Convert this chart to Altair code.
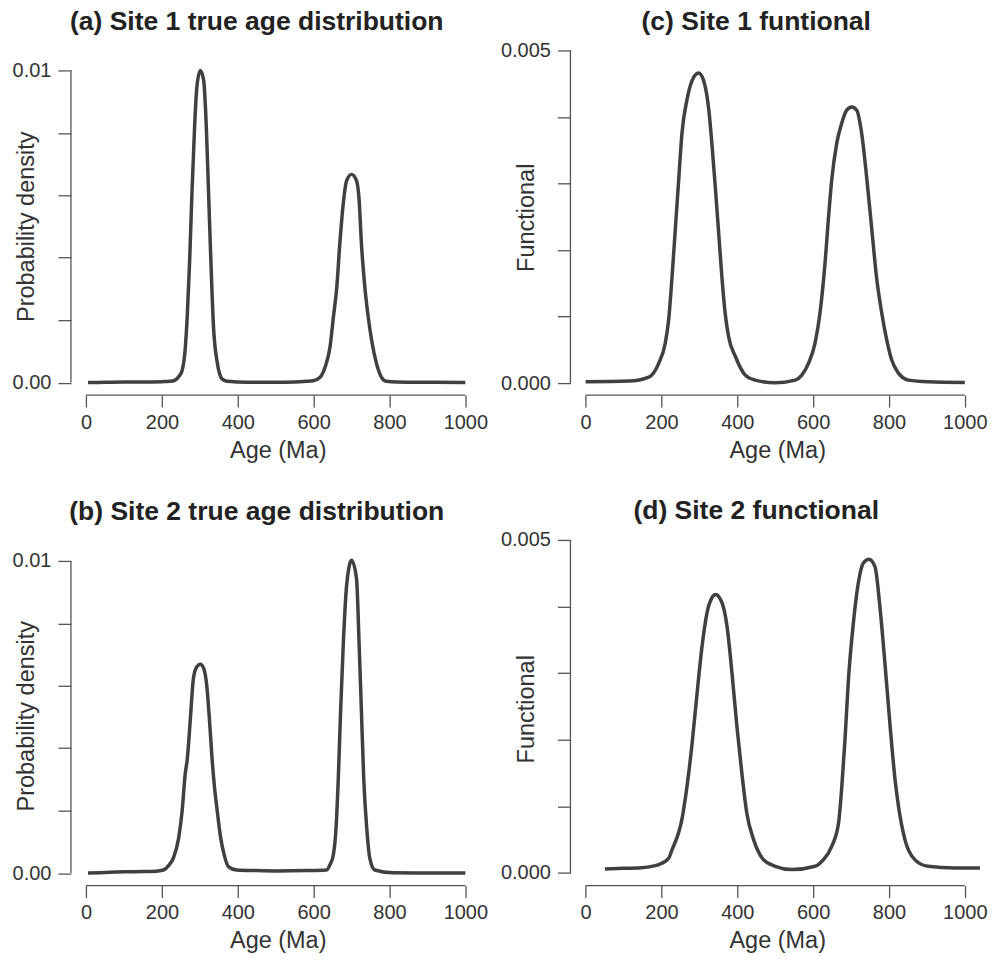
import altair as alt
import pandas as pd

# ---------------- data ----------------
# (a) Site 1 true age distribution
a_age = [5, 50, 100, 150, 200, 220, 235, 245, 253, 261, 267, 273, 279, 286, 292, 301, 310, 317,
         323, 329, 336, 345, 352, 358, 371, 400, 450, 500, 550, 580, 599, 617, 630, 643, 652, 661,
         669, 678, 687, 700, 713, 720, 726, 735, 744, 753, 766, 779, 792, 820, 900, 1000]
a_val = [0.0, 0.00001, 0.00002, 0.00002, 0.00003, 0.00004, 0.00008, 0.0002, 0.00038, 0.00103,
         0.0022, 0.0039, 0.00605, 0.00818, 0.00946, 0.0100, 0.00968, 0.00818, 0.00605, 0.0039,
         0.00177, 0.0007, 0.00028, 0.00012, 0.00004, 0.00002, 0.00001, 0.00001, 0.00002, 0.00004,
         0.00006, 0.00017, 0.00049, 0.00113, 0.00209, 0.00306, 0.00445, 0.00573, 0.00647, 0.00667,
         0.00647, 0.00583, 0.00445, 0.00306, 0.00209, 0.00135, 0.0006, 0.00017, 0.00004, 0.00002,
         0.00001, 0.0]

# (b) Site 2 true age distribution
b_age = [5, 50, 100, 150, 190, 204, 218, 230, 244, 253, 261, 267, 275, 283, 292, 301, 310, 318,
         325, 332, 338, 346, 355, 364, 375, 397, 450, 503, 580, 634, 643, 652, 659, 665, 671, 678,
         687, 700, 713, 720, 726, 732, 740, 748, 761, 809, 900, 1000]
b_val = [0.0, 0.00002, 0.00004, 0.00005, 0.00007, 0.0001, 0.00025, 0.00048, 0.00112, 0.00197,
         0.00314, 0.00368, 0.00496, 0.00624, 0.00661, 0.00669, 0.00656, 0.00602, 0.00496, 0.00368,
         0.00282, 0.00197, 0.00112, 0.00059, 0.00021, 0.0001, 0.00008, 0.00007, 0.00008, 0.0001,
         0.00027, 0.00059, 0.00144, 0.00304, 0.00517, 0.0073, 0.00922, 0.01002, 0.00944, 0.0073,
         0.00517, 0.00304, 0.00144, 0.00048, 0.0001, 0.00001, 0.0, 0.0]

# (c) Site 1 functional
c_age = [0, 114, 167, 193, 210, 219, 228, 237, 246, 254, 267, 281, 298, 311, 325, 333, 342, 351,
         360, 368, 377, 395, 421, 447, 500, 553, 570, 588, 605, 618, 632, 640, 649, 662, 675, 688,
         702, 715, 728, 741, 754, 767, 781, 794, 807, 825, 851, 903, 1000]
c_val = [0.00002, 0.00003, 0.00009, 0.0003, 0.0006, 0.00095, 0.0016, 0.00235, 0.0031, 0.00375,
         0.00425, 0.00455, 0.00466, 0.00455, 0.0041, 0.0036, 0.00295, 0.00225, 0.00155, 0.00105,
         0.0007, 0.0004, 0.00012, 0.000045, 0.000005, 0.000045, 0.00012, 0.0003, 0.0006, 0.00105,
         0.00185, 0.00245, 0.00305, 0.0036, 0.0039, 0.0041, 0.00415, 0.0041, 0.00375, 0.0031,
         0.00235, 0.0016, 0.00105, 0.00065, 0.00035, 0.00015, 0.000045, 0.00002, 0.00001]

# (d) Site 2 functional
d_age = [51, 100, 140, 184, 193, 219, 228, 245, 252, 265, 280, 294, 307, 320, 333, 343, 360, 373,
         386, 399, 412, 425, 443, 469, 500, 544, 605, 627, 649, 667, 675, 684, 693, 706, 719, 732,
         747, 763, 776, 790, 803, 816, 825, 842, 868, 903, 974, 1044]
d_val = [0.00006, 0.00007, 0.000075, 0.00011, 0.000125, 0.00022, 0.00035, 0.0006, 0.00075, 0.0012,
         0.0019, 0.0027, 0.0034, 0.0039, 0.00413, 0.00418, 0.00405, 0.0037, 0.003, 0.0022, 0.0015,
         0.0009, 0.0005, 0.0002, 0.0001, 0.00005, 0.0001, 0.0002, 0.0004, 0.00075, 0.00125, 0.002,
         0.0029, 0.00375, 0.00435, 0.00465, 0.00471, 0.0046, 0.004, 0.0031, 0.0022, 0.0014, 0.001,
         0.0005, 0.0002, 0.0001, 0.000075, 0.000075]

x_ticks = [0, 200, 400, 600, 800, 1000]
dens_ticks = [0, 0.002, 0.004, 0.006, 0.008, 0.01]
dens_labels = ["0.00", "", "", "", "", "0.01"]
func_ticks = [0, 0.001, 0.002, 0.003, 0.004, 0.005]
func_labels = ["0.000", "", "", "", "", "0.005"]

titles = ["(a) Site 1 true age distribution", "(c) Site 1 funtional",
          "(b) Site 2 true age distribution", "(d) Site 2 functional"]

FONT = "Liberation Sans"
LINE = "#404040"
AXC = "#555555"
TXT = "#333333"
W, H = 410, 355
XDOM = [-40, 1040]


def label_expr(ticks, labels):
    parts = []
    for t, l in zip(ticks, labels):
        if l:
            parts.append(f"abs(datum.value - {t}) < 1e-9 ? '{l}'")
    return " : ".join(parts) + " : ''"


def panel(age, val, ydom, yticks, ylabels, title, ytitle, ytitle_y):
    df = pd.DataFrame({"age": age, "val": val})
    xs = alt.Scale(domain=XDOM, nice=False, zero=False)
    ys = alt.Scale(domain=ydom, nice=False, zero=False)
    xaxis = alt.Axis(values=x_ticks, format="d", domain=False, grid=False, tickSize=12,
                     tickWidth=1.3, tickColor=AXC, labelFont=FONT, labelFontSize=20,
                     labelColor=TXT, labelBaseline="alphabetic", labelPadding=21,
                     labelFlush=False, labelOverlap=False, title="Age (Ma)", titleFont=FONT,
                     titleFontSize=23.5, titleFontWeight="normal", titleColor=TXT,
                     titleBaseline="alphabetic", titleY=62, titleX=W / 2 + 2)
    yaxis = alt.Axis(values=yticks, domain=False, grid=False, tickSize=13, tickWidth=1.3,
                     tickColor=AXC, labelFont=FONT, labelFontSize=20, labelColor=TXT,
                     labelPadding=7, labelFlush=False, labelOverlap=False,
                     labelExpr=label_expr(yticks, ylabels), title=ytitle, titleFont=FONT,
                     titleFontSize=23.5, titleFontWeight="normal", titleColor=TXT,
                     titleBaseline="alphabetic", titleAngle=-90, titleX=-37, titleY=ytitle_y)
    line = alt.Chart(df).mark_line(color=LINE, strokeWidth=3.5, interpolate="monotone",
                                   clip=True).encode(
        x=alt.X("age:Q", scale=xs, axis=xaxis),
        y=alt.Y("val:Q", scale=ys, axis=yaxis),
    )
    xr = pd.DataFrame({"x": [x_ticks[0]], "x2": [x_ticks[-1]], "y": [ydom[0]]})
    xrule = alt.Chart(xr).mark_rule(color=AXC, strokeWidth=1.3).encode(
        x=alt.X("x:Q", scale=xs), x2="x2:Q", y=alt.Y("y:Q", scale=ys))
    yr = pd.DataFrame({"x": [XDOM[0]], "y": [yticks[0]], "y2": [yticks[-1]]})
    yrule = alt.Chart(yr).mark_rule(color=AXC, strokeWidth=1.3).encode(
        x=alt.X("x:Q", scale=xs), y=alt.Y("y:Q", scale=ys), y2="y2:Q")
    return alt.layer(line, xrule, yrule).properties(
        width=W, height=H,
        title=alt.TitleParams(title, font=FONT, fontSize=26.5, fontWeight="bold", color="#222222",
                              anchor="middle", frame="group", dx=-19, offset=-16,
                              baseline="alphabetic"),
    )


pa = panel(a_age, a_val, [-0.0004, 0.01096], dens_ticks, dens_labels, titles[0],
           "Probability density", 186)
pc = panel(c_age, c_val, [-0.00018, 0.00515], func_ticks, func_labels, titles[1],
           "Functional", 177)
pb = panel(b_age, b_val, [-0.0004, 0.01096], dens_ticks, dens_labels, titles[2],
           "Probability density", 185)
pd_ = panel(d_age, d_val, [-0.00019, 0.005135], func_ticks, func_labels, titles[3],
            "Functional", 178)

chart = alt.concat(pa, pc, pb, pd_, columns=2,
                   spacing=alt.RowColnumber(row=136, column=90), bounds="flush").properties(
    padding={"left": 4, "top": 0, "right": 0, "bottom": 0}, background="white"
).configure_view(stroke=None)

chart.save("out.html", embed_options={"renderer": "svg", "actions": False})
